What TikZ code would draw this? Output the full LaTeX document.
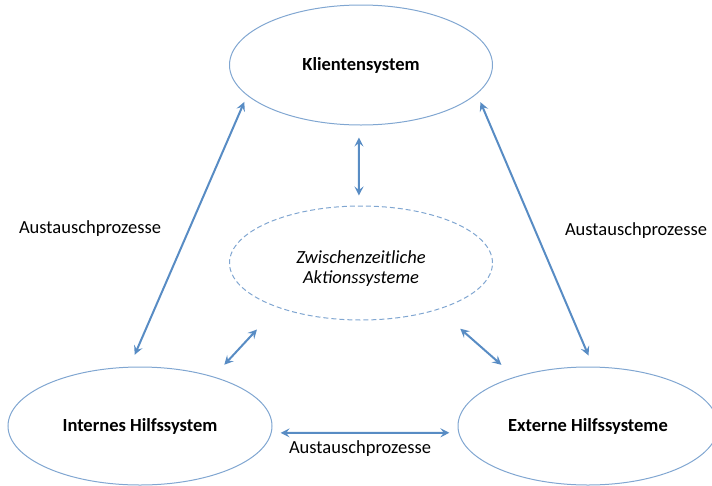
\documentclass[tikz,border=0pt]{standalone}
\usepackage{fontspec}
\setmainfont{Carlito}
\usetikzlibrary{shapes.geometric, arrows.meta}
\definecolor{lineBlue}{RGB}{88, 140, 196}
\definecolor{ringBlue}{RGB}{128, 166, 209}

\begin{document}
\begin{tikzpicture}[x=1pt, y=-1pt,
    sysBox/.style={ellipse, draw=ringBlue, line width=1pt, inner sep=0pt,
      font=\fontsize{18.5}{22}\selectfont\bfseries},
    swap/.style={lineBlue, line width=2pt,
      {Stealth[length=9pt,width=9pt,inset=3.5pt]}-{Stealth[length=9pt,width=9pt,inset=3.5pt]}},
    txt/.style={font=\fontsize{18.5}{22}\selectfont}]
        \useasboundingbox (0,0) rectangle (712,485);
        % the four systems
        \node[sysBox, minimum width=263pt, minimum height=120pt] (klient) at (361,65) {Klientensystem};
        \node[sysBox, dashed, dash pattern=on 5pt off 3pt, minimum width=263pt, minimum height=114pt,
          font=\fontsize{18.5}{20}\selectfont\itshape, align=center] (zwischen) at (361,263)
          {\rule{0pt}{23pt}Zwischenzeitliche\\Aktionssysteme};
        \node[sysBox, minimum width=264pt, minimum height=118pt] (intern) at (140,426) {Internes Hilfssystem};
        \node[sysBox, minimum width=260pt, minimum height=118pt] (extern) at (588,426) {Externe Hilfssysteme};
        % exchange arrows
        \draw[swap, shorten <=13pt, shorten >=7pt] (intern.100) -- (klient.195);
        \draw[swap, shorten <=12pt, shorten >=9pt] (extern.85) -- (klient.346);
        \draw[swap, shorten <=12pt, shorten >=10pt] (klient.268) -- (zwischen.92);
        \draw[swap, shorten <=16pt, shorten >=30pt] (intern.34) -- (zwischen.208);
        \draw[swap, shorten <=29pt, shorten >=18pt] (zwischen.329) -- (extern.146);
        \draw[swap, shorten <=9pt, shorten >=9pt] (intern.357) -- (extern.183);
        % labels
        \node[txt] (linksText) at (90,229) {Austauschprozesse};
        \node[txt] (rechtsText) at (636,231) {Austauschprozesse};
        \node[txt] (untenText) at (360,449) {Austauschprozesse};
      \end{tikzpicture}
\end{document}
